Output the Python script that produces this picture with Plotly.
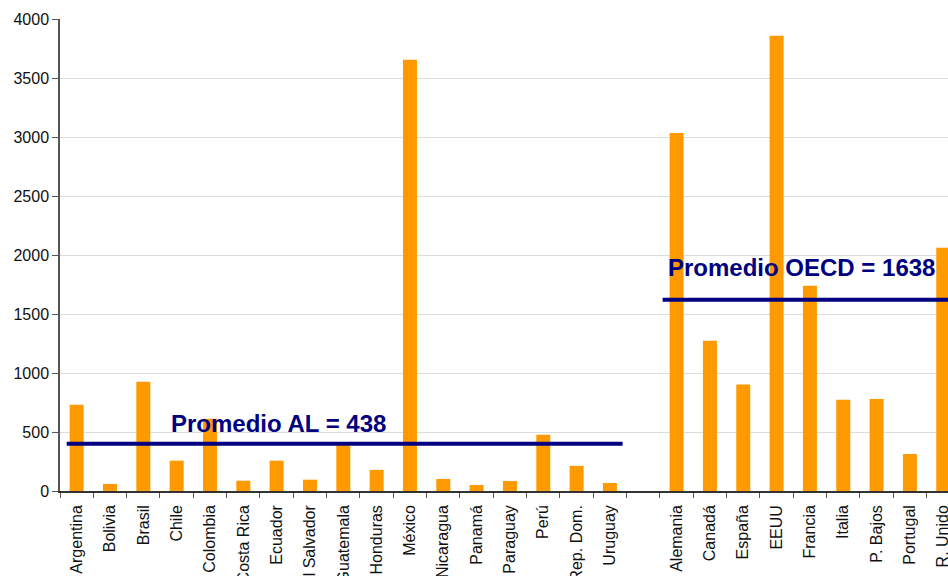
import plotly.graph_objects as go

countries = ["Argentina", "Bolivia", "Brasil", "Chile", "Colombia", "Costa Rica", "Ecuador",
             "El Salvador", "Guatemala", "Honduras", "México", "Nicaragua", "Panamá", "Paraguay",
             "Perú", "Rep. Dom.", "Uruguay", " ",
             "Alemania", "Canadá", "España", "EEUU", "Francia", "Italia", "P. Bajos",
             "Portugal", "R. Unido"]
values = [730, 60, 925, 257, 613, 87, 257, 96, 400, 179, 3655, 102, 51, 85, 477, 213, 68, None,
          3034, 1274, 903, 3858, 1740, 773, 780, 314, 2062]

al_avg_line = 400
oecd_avg_line = 1620
al_label = "Promedio AL = 438"
oecd_label = "Promedio OECD = 1638"
y_ticks = [0, 500, 1000, 1500, 2000, 2500, 3000, 3500, 4000]

FONT = "Liberation Sans, Arial, sans-serif"
NAVY = "#000080"

fig = go.Figure()
fig.add_trace(go.Bar(x=countries, y=values, marker=dict(color="#FF9900", line=dict(width=0)),
                     showlegend=False))

n_al = 17
fig.add_shape(type="line", xref="x", yref="y", x0=-0.3, x1=n_al - 0.62,
              y0=al_avg_line, y1=al_avg_line, line=dict(color=NAVY, width=4))
fig.add_shape(type="line", xref="x", yref="y", x0=n_al + 0.58, x1=len(countries) + 1,
              y0=oecd_avg_line, y1=oecd_avg_line, line=dict(color=NAVY, width=4))

fig.add_annotation(x=6.07, y=570, xref="x", yref="y", text="<b>" + al_label + "</b>",
                   showarrow=False, font=dict(family=FONT, size=24, color=NAVY))
fig.add_annotation(x=21.76, y=1890, xref="x", yref="y", text="<b>" + oecd_label + "</b>",
                   showarrow=False, font=dict(family=FONT, size=24, color=NAVY))

fig.update_layout(
    template="none",
    width=948, height=576,
    margin=dict(l=60, r=0, t=19, b=85, pad=0),
    paper_bgcolor="white", plot_bgcolor="white",
    bargap=0.58,
    font=dict(family=FONT, size=16, color="#111111"),
    xaxis=dict(type="category", categoryorder="array", categoryarray=countries,
               range=[-0.5, -0.5 + 888 / 33.33], automargin=False,
               tickangle=-90, ticks="outside", tickson="boundaries", ticklen=5,
               ticklabelstandoff=6,
               tickcolor="#555555", showline=True, linecolor="#333333", linewidth=1.5,
               showgrid=False, zeroline=False, tickfont=dict(size=16, color="#111111")),
    yaxis=dict(range=[0, 4000], tickvals=y_ticks, ticks="outside", ticklen=6,
               automargin=False,
               tickcolor="#555555", showline=True, linecolor="#555555", linewidth=1.5,
               showgrid=True, gridcolor="#dcdcdc", gridwidth=1, zeroline=False,
               tickfont=dict(size=16, color="#111111")),
)

fig.write_html("out.html")
